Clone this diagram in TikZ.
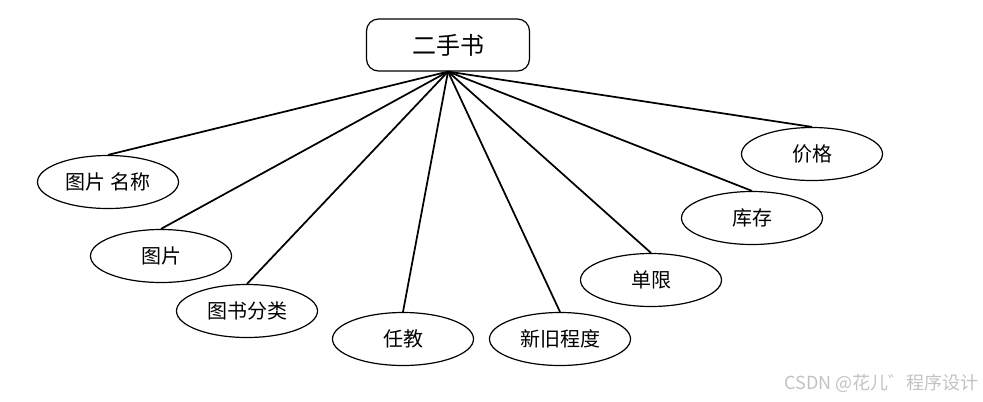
\documentclass[tikz,border=0pt]{standalone}
\usepackage{fontspec}
\newfontfamily\cjk{Noto Sans CJK SC}
\usetikzlibrary{shapes.geometric}
\begin{document}
\begin{tikzpicture}[x=0.75pt,y=-0.75pt,
  attr/.style={ellipse,draw,line width=0.9pt,minimum width=105.75pt,minimum height=39.75pt,inner sep=0pt,font=\cjk\fontsize{15}{17}\selectfont},
  entity/.style={rectangle,rounded corners=9pt,draw,line width=0.9pt,minimum width=122.25pt,minimum height=39pt,inner sep=0pt,font=\cjk\fontsize{18}{20}\selectfont},
  link/.style={line width=1.3pt}]
\useasboundingbox (0,0) rectangle (983,401);
\node[entity] (root) at (448,45) {二手书};
\node[attr] (a1) at (108,182) {图片 名称};
\node[attr] (a2) at (161,256) {图片};
\node[attr] (a3) at (247,311) {图书分类};
\node[attr] (a4) at (403,339) {任教};
\node[attr] (a5) at (560,339) {新旧程度};
\node[attr] (a6) at (651,280) {单限};
\node[attr] (a7) at (752,218) {库存};
\node[attr] (a8) at (812,154) {价格};
\foreach \n in {a1,a2,a3,a4,a5,a6,a7,a8}
  \draw[link] (root.south) -- (\n.north);
\node[text=black!24,font=\cjk\fontsize{13.5}{15}\selectfont,anchor=east,inner sep=0pt] (wm) at (979,383) {CSDN @花儿゛程序设计};
\end{tikzpicture}
\end{document}
